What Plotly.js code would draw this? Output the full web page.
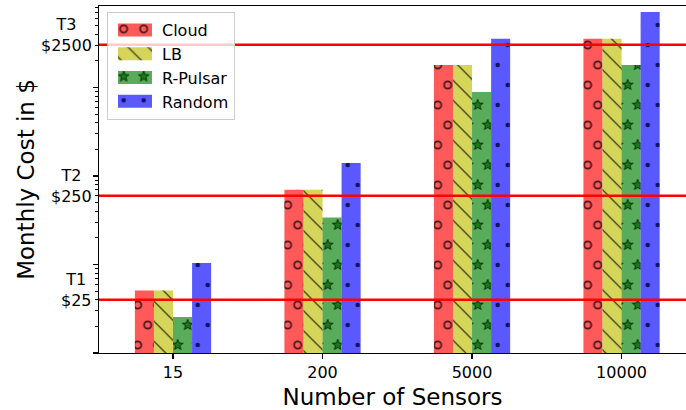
<!DOCTYPE html>
<html><head><meta charset="utf-8">
<script src="https://cdn.plot.ly/plotly-3.0.1.min.js"></script>
<style>html,body{margin:0;padding:0;background:#fff}#chart{width:686px;height:410px}</style>
</head><body><div id="chart"></div>
<script>
// ---- data ----
const sensors = ['15', '200', '5000', '10000'];
const cloud   = [5.1, 70, 1800, 3550];
const lb      = [5.1, 70, 1800, 3550];
const rpulsar = [2.55, 34, 890, 1800];
const random  = [10.4, 140, 3550, 7150];
const tierValues = [4, 60, 3050];
const tierLabels = ['T1<br>$25', 'T2<br>$250', 'T3<br>$2500'];
const seriesNames = ['Cloud', 'LB', 'R-Pulsar', 'Random'];
const seriesData = [cloud, lb, rpulsar, random];
const seriesColors = ['rgba(255,0,0,0.65)', 'rgba(191,191,0,0.65)', 'rgba(0,128,0,0.65)', 'rgba(0,0,255,0.65)'];
const decadeTicks = [1, 10, 100, 1000];

const xpos = sensors.map((_, i) => i);
const FONT = 'DejaVu Sans, Verdana, sans-serif';

const traces = seriesData.map((vals, i) => ({
  type: 'bar', name: seriesNames[i], x: xpos, y: vals,
  marker: {color: seriesColors[i], line: {width: 0}}
}));
tierValues.forEach(v => traces.push({
  type: 'scatter', mode: 'lines', x: [-1, 5], y: [v, v],
  line: {color: 'red', width: 2.5}, showlegend: false, hoverinfo: 'skip'
}));

const minorTicks = [];
decadeTicks.forEach(d => { for (let m = 2; m <= 9; m++) minorTicks.push(d * m); });

const annotations = tierValues.map((v, i) => ({
  xref: 'paper', yref: 'y', x: 0, y: Math.log10(v), xanchor: 'right', yanchor: 'middle',
  xshift: -5, yshift: 10, align: 'center', showarrow: false, text: tierLabels[i],
  font: {family: FONT, size: 16, color: '#000'}
}));

const layout = {
  width: 686, height: 410,
  margin: {l: 99, r: 0, t: 6, b: 57},
  paper_bgcolor: '#fff', plot_bgcolor: '#fff',
  barmode: 'group', bargap: 0.49, bargroupgap: 0,
  font: {family: FONT, size: 16, color: '#000'},
  showlegend: true,
  legend: {x: 0.0136, y: 0.9827, xanchor: 'left', yanchor: 'top', itemwidth: 44,
    bgcolor: 'rgba(255,255,255,0.8)', bordercolor: '#cccccc', borderwidth: 1,
    font: {family: FONT, size: 16, color: '#000'}, traceorder: 'normal'},
  xaxis: {type: 'linear', range: [-0.495, 3.431], tickvals: xpos, ticktext: sensors,
    showgrid: false, zeroline: false, showline: true, mirror: true, linecolor: '#000', linewidth: 1.2,
    ticks: 'outside', ticklen: 5, tickwidth: 1.2, tickcolor: '#000',
    tickfont: {family: FONT, size: 16, color: '#000'},
    title: {text: 'Number of Sensors', font: {family: FONT, size: 23, color: '#000'}, standoff: 7},
    automargin: false},
  yaxis: {type: 'log', range: [0, 3.921], tickvals: decadeTicks, ticktext: decadeTicks.map(() => ''),
    showgrid: false, zeroline: false, showline: true, mirror: false, linecolor: '#000', linewidth: 1.2,
    ticks: 'outside', ticklen: 5, tickwidth: 1.2, tickcolor: '#000',
    minor: {tickmode: 'array', tickvals: minorTicks, ticks: 'outside', ticklen: 3, tickwidth: 1, tickcolor: '#000', showgrid: false},
    title: {text: 'Monthly Cost in $', font: {family: FONT, size: 23, color: '#000'}, standoff: 48},
    automargin: false},
  annotations: annotations
};

function addHatches(gd) {
  const NS = 'http://www.w3.org/2000/svg';
  const svg = gd.querySelector('svg.main-svg');
  let defs = svg.querySelector('defs');
  if (!defs) { defs = document.createElementNS(NS, 'defs'); svg.insertBefore(defs, svg.firstChild); }
  const mk = (tag, attrs, parent) => { const e = document.createElementNS(NS, tag); for (const k in attrs) e.setAttribute(k, attrs[k]); if (parent) parent.appendChild(e); return e; };
  const centers = [[10, 10], [0, 30], [20, 30]];
  const pat = id => mk('pattern', {id: id, patternUnits: 'userSpaceOnUse', width: 20, height: 40, patternTransform: 'translate(8.7,9)'}, defs);
  // circles
  let p = pat('hatch0');
  centers.forEach(c => mk('circle', {cx: c[0], cy: c[1], r: 3.6, fill: 'none', stroke: 'rgba(0,0,0,0.72)', 'stroke-width': 1.8}, p));
  // backslash
  p = mk('pattern', {id: 'hatch1', patternUnits: 'userSpaceOnUse', width: 20, height: 20, patternTransform: 'translate(8.7,9)'}, defs);
  mk('path', {d: 'M-5,-5L25,25M-5,15L5,25M15,-5L25,5', stroke: 'rgba(0,0,0,0.7)', 'stroke-width': 1.3, fill: 'none'}, p);
  // stars
  p = pat('hatch2');
  centers.forEach(c => {
    let d = '';
    for (let k = 0; k < 10; k++) {
      const r = k % 2 === 0 ? 5.6 : 2.4;
      const a = -Math.PI / 2 + k * Math.PI / 5;
      d += (k === 0 ? 'M' : 'L') + (c[0] + r * Math.cos(a)).toFixed(2) + ',' + (c[1] + r * Math.sin(a)).toFixed(2);
    }
    mk('path', {d: d + 'Z', fill: 'rgba(0,110,0,0.75)', stroke: 'rgba(0,0,0,0.7)', 'stroke-width': 1}, p);
  });
  // dots
  p = pat('hatch3');
  centers.forEach(c => mk('circle', {cx: c[0], cy: c[1], r: 2.3, fill: 'rgba(0,0,60,0.8)'}, p));

  gd.querySelectorAll('.barlayer .trace.bars').forEach((tr, i) => {
    tr.querySelectorAll('path').forEach(path => {
      const c = path.cloneNode(true);
      c.style.fill = 'url(#hatch' + i + ')';
      c.style.fillOpacity = 1; c.style.stroke = 'none'; c.style.opacity = 1;
      path.parentNode.appendChild(c);
    });
  });
  gd.querySelectorAll('.legend .traces').forEach((t, i) => {
    const path = t.querySelector('.legendpoints path');
    if (!path) return;
    path.setAttribute('d', 'M17,6.5H-17V-6.5H17Z');
    const c = path.cloneNode(true);
    c.style.fill = 'url(#hatch' + i + ')';
    c.style.fillOpacity = 1; c.style.stroke = 'none';
    path.parentNode.appendChild(c);
  });
}

Plotly.newPlot('chart', traces, layout, {staticPlot: true, displayModeBar: false}).then(addHatches);
</script>
</body></html>
